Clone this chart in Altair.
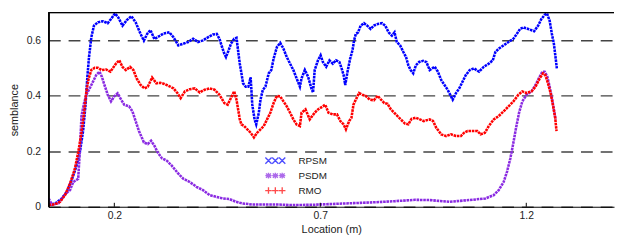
import altair as alt
import pandas as pd

SERIES = ["RPSM", "PSDM", "RMO"]
COLORS = ["#0000FF", "#8A2BE2", "#FF0000"]

rpsm_x = [0.0405, 0.0565, 0.0724, 0.0844, 0.0963, 0.1083, 0.1163, 0.1242, 0.1298, 0.1346,
          0.1386, 0.1442, 0.1506, 0.1601, 0.1721, 0.1840, 0.1920, 0.2016, 0.2096, 0.2199,
          0.2303, 0.2415, 0.2518, 0.2638, 0.2718, 0.2797, 0.2877, 0.2973, 0.3077, 0.3196,
          0.3340, 0.3435, 0.3555, 0.3674, 0.3794, 0.3914, 0.4033, 0.4153, 0.4272, 0.4392,
          0.4488, 0.4551, 0.4615, 0.4671, 0.4711, 0.4775, 0.4831, 0.4910, 0.4966, 0.5014,
          0.5046, 0.5086, 0.5126, 0.5189, 0.5253, 0.5309, 0.5349, 0.5405, 0.5445, 0.5508,
          0.5548, 0.5604, 0.5668, 0.5748, 0.5811, 0.5867, 0.5947, 0.6027, 0.6106, 0.6186,
          0.6266, 0.6346, 0.6425, 0.6505, 0.6545, 0.6625, 0.6704, 0.6784, 0.6824, 0.6864,
          0.6944, 0.7008, 0.7063, 0.7143, 0.7223, 0.7303, 0.7382, 0.7462, 0.7518, 0.7566,
          0.7606, 0.7661, 0.7725, 0.7781, 0.7821, 0.7861, 0.7917, 0.7980, 0.8060, 0.8140,
          0.8220, 0.8299, 0.8395, 0.8499, 0.8578, 0.8658, 0.8738, 0.8802, 0.8858, 0.8937,
          0.9017, 0.9081, 0.9137, 0.9193, 0.9256, 0.9320, 0.9400, 0.9496, 0.9575, 0.9656,
          0.9776, 0.9855, 0.9935, 1.0015, 1.0095, 1.0174, 1.0214, 1.0294, 1.0374, 1.0453,
          1.0533, 1.0629, 1.0733, 1.0852, 1.0972, 1.1091, 1.1187, 1.1251, 1.1331, 1.1450,
          1.1570, 1.1689, 1.1769, 1.1849, 1.1929, 1.2048, 1.2192, 1.2288, 1.2367, 1.2447,
          1.2503, 1.2567, 1.2622, 1.2670, 1.2710, 1.2742]
rpsm_y = [0.006, 0.012, 0.030, 0.053, 0.095, 0.148, 0.196, 0.273, 0.362, 0.469,
          0.540, 0.611, 0.653, 0.665, 0.669, 0.662, 0.677, 0.697, 0.683, 0.653,
          0.673, 0.687, 0.665, 0.623, 0.599, 0.623, 0.637, 0.605, 0.614, 0.625,
          0.629, 0.611, 0.582, 0.588, 0.594, 0.606, 0.594, 0.600, 0.611, 0.621,
          0.623, 0.606, 0.576, 0.552, 0.540, 0.564, 0.588, 0.606, 0.609, 0.552,
          0.516, 0.481, 0.445, 0.433, 0.433, 0.467, 0.368, 0.315, 0.297, 0.339,
          0.386, 0.421, 0.433, 0.481, 0.493, 0.534, 0.576, 0.591, 0.570, 0.540,
          0.516, 0.493, 0.463, 0.433, 0.463, 0.493, 0.469, 0.427, 0.412, 0.493,
          0.528, 0.546, 0.522, 0.505, 0.528, 0.516, 0.528, 0.522, 0.499, 0.475,
          0.439, 0.487, 0.534, 0.564, 0.600, 0.623, 0.629, 0.653, 0.662, 0.653,
          0.641, 0.653, 0.659, 0.662, 0.653, 0.629, 0.617, 0.629, 0.594, 0.582,
          0.558, 0.540, 0.510, 0.493, 0.481, 0.510, 0.522, 0.526, 0.522, 0.493,
          0.505, 0.487, 0.457, 0.439, 0.421, 0.398, 0.386, 0.410, 0.427, 0.451,
          0.475, 0.493, 0.499, 0.487, 0.505, 0.516, 0.528, 0.558, 0.570, 0.582,
          0.594, 0.606, 0.623, 0.641, 0.647, 0.641, 0.633, 0.653, 0.677, 0.692,
          0.697, 0.671, 0.623, 0.588, 0.540, 0.499]

rmo_x = [0.0405, 0.0565, 0.0684, 0.0804, 0.0924, 0.1043, 0.1123, 0.1203, 0.1266, 0.1322,
         0.1378, 0.1442, 0.1522, 0.1601, 0.1697, 0.1801, 0.1904, 0.1960, 0.2040, 0.2120,
         0.2199, 0.2279, 0.2383, 0.2463, 0.2542, 0.2638, 0.2734, 0.2813, 0.2917, 0.3021,
         0.3117, 0.3212, 0.3316, 0.3435, 0.3531, 0.3610, 0.3714, 0.3834, 0.3953, 0.4073,
         0.4193, 0.4312, 0.4432, 0.4551, 0.4671, 0.4751, 0.4831, 0.4910, 0.4966, 0.5006,
         0.5046, 0.5086, 0.5150, 0.5229, 0.5309, 0.5389, 0.5468, 0.5548, 0.5628, 0.5708,
         0.5787, 0.5867, 0.5947, 0.6027, 0.6106, 0.6186, 0.6266, 0.6346, 0.6425, 0.6505,
         0.6545, 0.6641, 0.6744, 0.6864, 0.6944, 0.7063, 0.7119, 0.7199, 0.7303, 0.7406,
         0.7486, 0.7566, 0.7622, 0.7701, 0.7757, 0.7805, 0.7861, 0.7941, 0.8020, 0.8100,
         0.8204, 0.8299, 0.8395, 0.8475, 0.8555, 0.8634, 0.8714, 0.8794, 0.8874, 0.8953,
         0.9057, 0.9137, 0.9216, 0.9320, 0.9416, 0.9512, 0.9656, 0.9736, 0.9815, 0.9935,
         1.0055, 1.0174, 1.0294, 1.0414, 1.0493, 1.0573, 1.0693, 1.0812, 1.0892, 1.0996,
         1.1091, 1.1211, 1.1331, 1.1450, 1.1570, 1.1689, 1.1809, 1.1905, 1.2008, 1.2128,
         1.2224, 1.2327, 1.2407, 1.2463, 1.2527, 1.2591, 1.2646, 1.2702, 1.2734]
rmo_y = [0.006, 0.009, 0.018, 0.042, 0.083, 0.137, 0.196, 0.267, 0.339, 0.416,
         0.463, 0.493, 0.501, 0.501, 0.493, 0.495, 0.487, 0.499, 0.516, 0.528,
         0.504, 0.493, 0.504, 0.493, 0.463, 0.439, 0.427, 0.433, 0.466, 0.445,
         0.447, 0.443, 0.436, 0.427, 0.410, 0.392, 0.416, 0.424, 0.427, 0.412,
         0.422, 0.427, 0.422, 0.404, 0.374, 0.368, 0.392, 0.416, 0.386, 0.351,
         0.315, 0.297, 0.291, 0.279, 0.267, 0.250, 0.267, 0.279, 0.291, 0.315,
         0.339, 0.374, 0.400, 0.398, 0.380, 0.362, 0.339, 0.315, 0.297, 0.291,
         0.339, 0.351, 0.315, 0.339, 0.351, 0.362, 0.368, 0.339, 0.333, 0.333,
         0.309, 0.297, 0.279, 0.309, 0.321, 0.368, 0.386, 0.410, 0.404, 0.400,
         0.386, 0.384, 0.400, 0.386, 0.374, 0.371, 0.351, 0.339, 0.327, 0.315,
         0.300, 0.297, 0.317, 0.321, 0.315, 0.309, 0.315, 0.309, 0.285, 0.261,
         0.255, 0.261, 0.255, 0.255, 0.267, 0.273, 0.273, 0.273, 0.261, 0.267,
         0.291, 0.315, 0.327, 0.344, 0.362, 0.380, 0.404, 0.416, 0.410, 0.416,
         0.433, 0.463, 0.481, 0.475, 0.445, 0.410, 0.368, 0.321, 0.273]

psdm_x = [0.0405, 0.0485, 0.0645, 0.0804, 0.0924, 0.1003, 0.1123, 0.1163, 0.1203, 0.1266,
          0.1322, 0.1402, 0.1482, 0.1561, 0.1641, 0.1697, 0.1761, 0.1840, 0.1920, 0.2000,
          0.2080, 0.2144, 0.2239, 0.2359, 0.2439, 0.2518, 0.2598, 0.2718, 0.2813, 0.2893,
          0.2973, 0.3053, 0.3156, 0.3276, 0.3396, 0.3555, 0.3674, 0.3834, 0.3993, 0.4153,
          0.4312, 0.4472, 0.4631, 0.4791, 0.4950, 0.5110, 0.5349, 0.5668, 0.5987, 0.6306,
          0.6800, 0.7300, 0.7800, 0.8300, 0.8800, 0.9300, 0.9656, 1.0134, 1.0613, 1.1012,
          1.1211, 1.1331, 1.1450, 1.1530, 1.1610, 1.1674, 1.1745, 1.1825, 1.1905, 1.2008,
          1.2128, 1.2224, 1.2303, 1.2391, 1.2447, 1.2511, 1.2567, 1.2622, 1.2670, 1.2710]
psdm_y = [0.030, 0.008, 0.012, 0.045, 0.060, 0.089, 0.101, 0.200, 0.327, 0.374,
          0.404, 0.427, 0.451, 0.475, 0.487, 0.469, 0.439, 0.404, 0.380, 0.398,
          0.409, 0.392, 0.368, 0.362, 0.344, 0.309, 0.273, 0.232, 0.226, 0.238,
          0.220, 0.196, 0.175, 0.166, 0.148, 0.119, 0.101, 0.089, 0.072, 0.060,
          0.042, 0.036, 0.030, 0.028, 0.018, 0.012, 0.008, 0.008, 0.008, 0.006,
          0.007, 0.010, 0.013, 0.016, 0.020, 0.025, 0.024, 0.018, 0.024, 0.030,
          0.042, 0.060, 0.089, 0.125, 0.172, 0.220, 0.279, 0.339, 0.380, 0.404,
          0.416, 0.439, 0.463, 0.487, 0.487, 0.469, 0.433, 0.392, 0.351, 0.315]

X_TICKS = [0.2, 0.7, 1.2]
Y_TICKS = [0, 0.2, 0.4, 0.6]
X_DOMAIN = [0.04, 1.413]
Y_DOMAIN = [0, 0.7]

W, H = 574, 197
FONT = "Liberation Sans"

rows = []
for name, xs, ys in [("RPSM", rpsm_x, rpsm_y), ("PSDM", psdm_x, psdm_y), ("RMO", rmo_x, rmo_y)]:
    for i, (a, b) in enumerate(zip(xs, ys)):
        rows.append({"series": name, "loc": a, "sem": b, "idx": i})
df = pd.DataFrame(rows)

# legend glyphs: three markers per entry (unit = sqrt(size)/2 px)
def triple(fn):
    return "".join(fn(c) for c in (-2.2, 0.0, 2.2))

x_path = triple(lambda c: f"M{c-1.0:.2f},-1L{c+1.0:.2f},1M{c-1.0:.2f},1L{c+1.0:.2f},-1")
star_path = triple(lambda c: f"M{c-0.8:.2f},-0.7L{c+0.8:.2f},0.7M{c-0.8:.2f},0.7L{c+0.8:.2f},-0.7"
                             f"M{c-1.0:.2f},0L{c+1.0:.2f},0M{c:.2f},-0.9L{c:.2f},0.9")
plus_path = triple(lambda c: f"M{c-1.05:.2f},0L{c+1.05:.2f},0M{c:.2f},-1.05L{c:.2f},1.05")
SHAPES = [x_path, star_path, plus_path]

color_scale = alt.Scale(domain=SERIES, range=COLORS)

x_enc = alt.X("loc:Q", scale=alt.Scale(domain=X_DOMAIN, nice=False, zero=False),
              axis=alt.Axis(values=X_TICKS, format=".1f", title="Location (m)", grid=False,
                            ticks=False, labelPadding=4, titlePadding=3))
y_enc = alt.Y("sem:Q", scale=alt.Scale(domain=Y_DOMAIN, nice=False),
              axis=alt.Axis(values=Y_TICKS, title="semblance", grid=True, ticks=False,
                            labelExpr="datum.value == 0 ? '0' : format(datum.value, '.1f')",
                            labelPadding=8, titlePadding=7))

lines = alt.Chart(df).mark_line(strokeWidth=2.6, strokeDash=[2.6, 0.8], clip=True).encode(
    x=x_enc, y=y_enc,
    color=alt.Color("series:N", scale=color_scale, legend=None),
    detail="series:N",
    order="idx:Q",
)

# hand-made legend (three glyphs per entry), placed inside the plot
legend_df = pd.DataFrame({"series": SERIES})
LEG_X, LEG_Y, LEG_STEP, LEG_GAP = 230.3, 150.2, 15.2, 23.4
legend_layers = []
for i, name in enumerate(SERIES):
    base = alt.Chart(legend_df).transform_filter(alt.datum.series == name)
    legend_layers.append(base.mark_point(filled=False, strokeWidth=1.35, size=40).encode(
        x=alt.value(LEG_X), y=alt.value(LEG_Y + i * LEG_STEP),
        color=alt.Color("series:N", scale=color_scale, legend=None),
        shape=alt.Shape("series:N", scale=alt.Scale(domain=SERIES, range=SHAPES), legend=None),
    ))
    legend_layers.append(base.mark_text(align="left", baseline="middle", fontSize=10,
                                        font=FONT, color="#222").encode(
        x=alt.value(LEG_X + LEG_GAP), y=alt.value(LEG_Y + i * LEG_STEP), text="series:N"))

ticks_df = pd.DataFrame({"loc": X_TICKS})
tick_marks = alt.Chart(ticks_df).mark_rule(color="#000", strokeWidth=1).encode(
    x="loc:Q", y=alt.value(H), y2=alt.value(H - 4))

top_border = alt.Chart(ticks_df).mark_rule(color="#000", strokeWidth=1).encode(
    x=alt.value(0), x2=alt.value(W), y=alt.value(0))
left_border = alt.Chart(ticks_df).mark_rule(color="#000", strokeWidth=1.2).encode(
    x=alt.value(0.5), y=alt.value(0), y2=alt.value(H))

chart = alt.layer(lines, tick_marks, top_border, left_border, *legend_layers).properties(
    width=W, height=H, padding={"left": 0, "top": 2, "right": 0, "bottom": 0}
).configure_view(stroke=None).configure_axis(
    labelFont=FONT, titleFont=FONT, labelFontSize=10.5, titleFontSize=11,
    titleFontWeight="normal", labelColor="#222", titleColor="#222",
    domainColor="#000", domainWidth=1, gridColor="#444", gridDash=[12, 8], gridWidth=1.4,
)

chart.save("out.html", embed_options={"renderer": "svg", "actions": False})
